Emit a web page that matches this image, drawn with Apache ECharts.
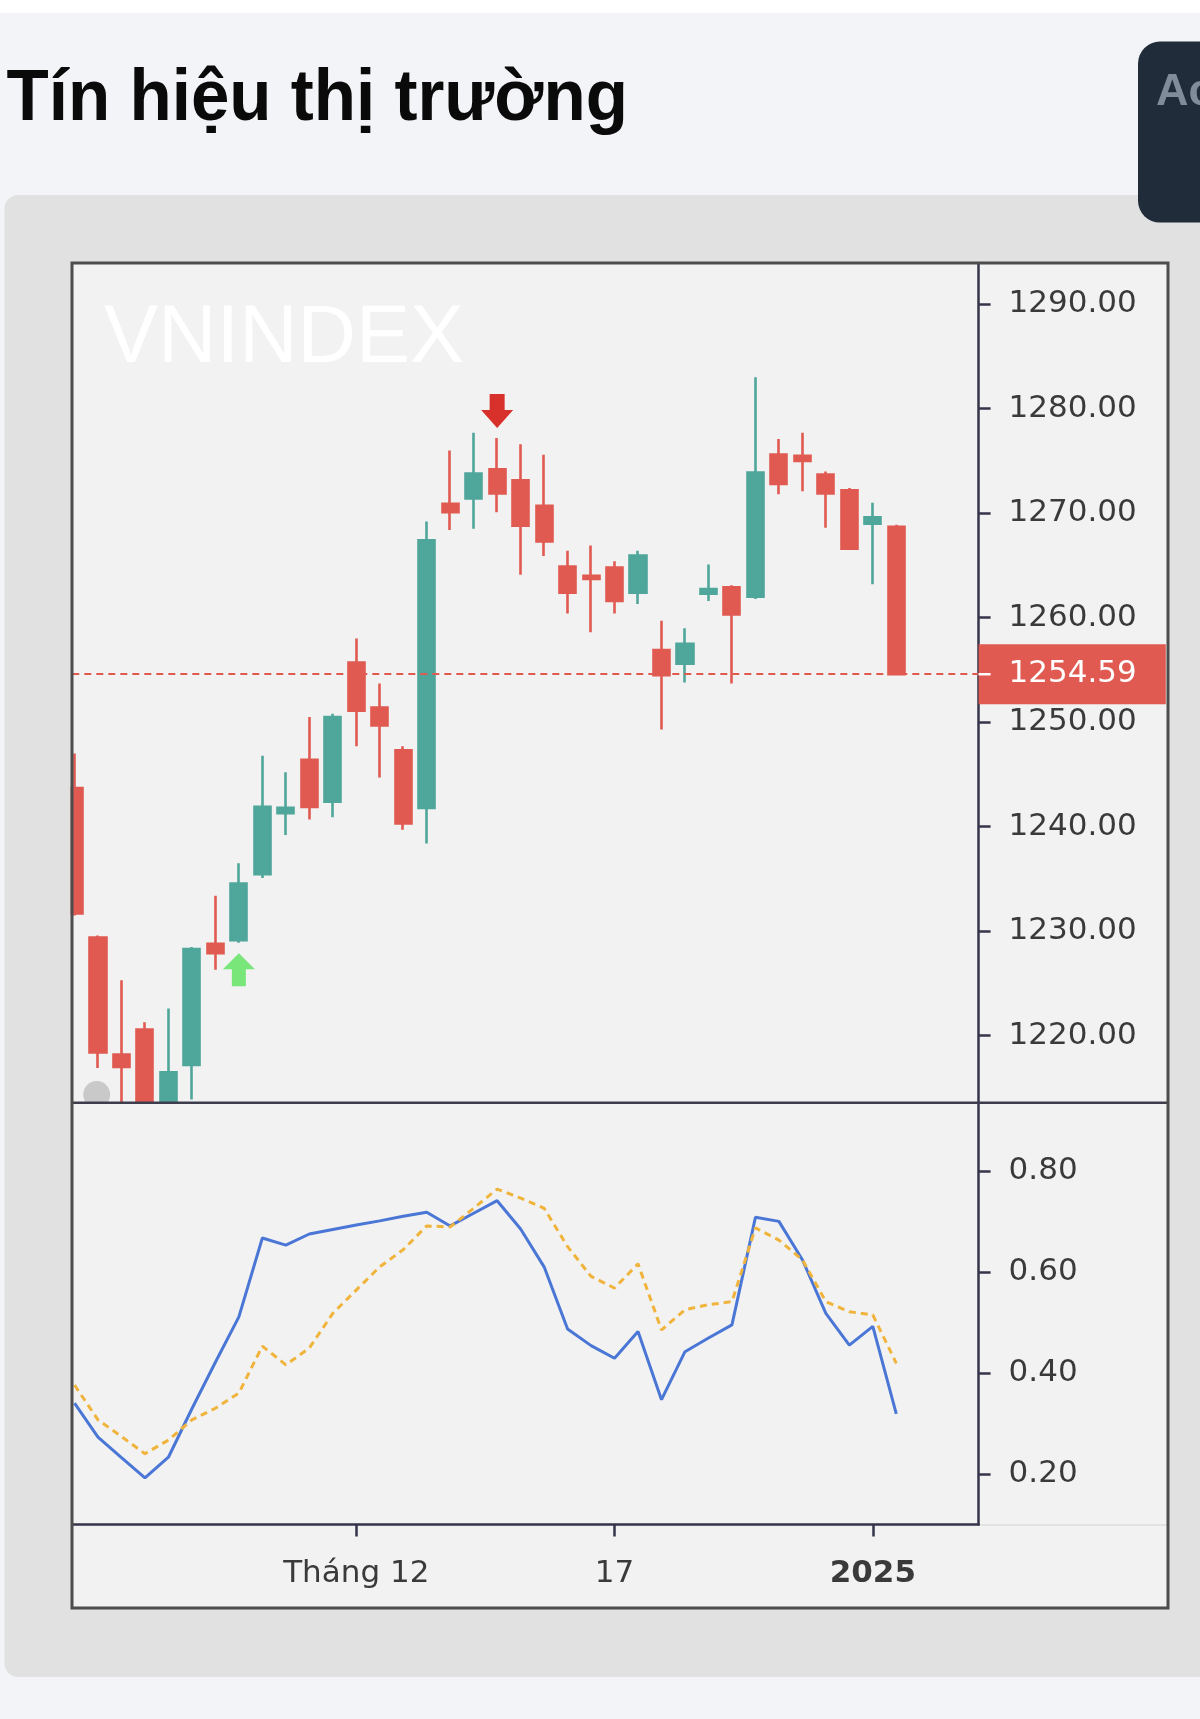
<!DOCTYPE html>
<html>
<head>
<meta charset="utf-8">
<title>Tín hiệu thị trường</title>
<script src="https://cdn.jsdelivr.net/npm/echarts@6/dist/echarts.min.js"></script>
<style>
  html, body { margin: 0; padding: 0; background: #f3f4f8; }
  #main { width: 1200px; height: 1719px; }
</style>
</head>
<body>
<div id="main"></div>
<script>
// VNINDEX daily candles, 14/11/2024 -> 03/01/2025
var opens  = [1243.7, 1229.4, 1218.2, 1220.6, 1212.0, 1217.2, 1228.8, 1229.15, 1235.45, 1241.3,
              1246.4, 1242.4, 1255.7, 1251.4, 1247.3, 1241.8, 1270.9, 1271.4, 1274.2, 1273.15,
              1270.7, 1264.9, 1264.0, 1264.8, 1262.4, 1256.9, 1255.6, 1262.3, 1262.9, 1262.0,
              1275.6, 1275.5, 1273.7, 1272.2, 1269.0, 1268.7];
var closes = [1231.7, 1218.4, 1217.0, 1212.5, 1216.5, 1228.3, 1227.9, 1234.56, 1241.9, 1241.8,
              1241.9, 1250.5, 1251.1, 1249.7, 1240.3, 1267.4, 1270.1, 1273.8, 1271.9, 1268.8,
              1267.3, 1262.4, 1263.7, 1261.6, 1265.95, 1254.5, 1257.5, 1262.75, 1260.3, 1273.9,
              1272.8, 1275.0, 1271.9, 1266.6, 1269.6, 1254.59];
var lows   = [1231.5, 1216.9, 1212.0, 1211.5, 1211.0, 1213.9, 1226.3, 1228.9, 1235.1, 1239.2,
              1240.7, 1240.9, 1247.7, 1244.7, 1239.7, 1238.4, 1268.4, 1268.5, 1270.1, 1264.1,
              1265.9, 1260.4, 1258.6, 1260.4, 1261.3, 1249.3, 1253.8, 1261.6, 1253.7, 1261.8,
              1271.8, 1272.1, 1268.6, 1266.6, 1263.2, 1254.5];
var highs  = [1247.0, 1229.6, 1225.3, 1221.3, 1222.6, 1228.5, 1233.4, 1236.5, 1246.8, 1245.2,
              1250.5, 1250.8, 1258.0, 1253.7, 1247.7, 1269.2, 1276.0, 1277.7, 1277.2, 1276.6,
              1275.6, 1266.4, 1266.9, 1265.4, 1266.4, 1259.7, 1259.0, 1265.1, 1263.1, 1283.0,
              1277.1, 1277.7, 1274.0, 1272.4, 1271.0, 1268.9];

// oscillator pane: fast line (blue) and slow line (orange dashed)
var kLine = [0.340, 0.273, 0.232, 0.192, 0.233, 0.329, 0.421, 0.511, 0.667, 0.653,
             0.675, 0.684, 0.693, 0.701, 0.710, 0.718, 0.691, 0.716, 0.741, 0.685,
             0.610, 0.487, 0.454, 0.429, 0.482, 0.347, 0.442, 0.469, 0.495, 0.708,
             0.700, 0.624, 0.518, 0.455, 0.492, 0.319];
var dLine = [0.376, 0.307, 0.274, 0.240, 0.267, 0.307, 0.330, 0.360, 0.453, 0.416,
             0.449, 0.518, 0.564, 0.610, 0.644, 0.691, 0.689, 0.726, 0.764, 0.746,
             0.726, 0.650, 0.591, 0.568, 0.616, 0.485, 0.525, 0.535, 0.541, 0.687,
             0.663, 0.624, 0.541, 0.521, 0.515, 0.419];

// axis ticks
var priceTicks = [1220, 1230, 1240, 1250, 1260, 1270, 1280, 1290];
var oscTicks = [0.2, 0.4, 0.6, 0.8];
var dateTickPos = [12, 23, 34];
var dateTickText = ['Tháng 12', '17', '2025'];

// signal markers
var buyIdx = 7;
var sellIdx = 18;
var lastPrice = closes[closes.length - 1];

var upColor = '#4fa69a';
var downColor = '#e05a51';
var axisColor = '#34344a';
var labelColor = '#3a3a3a';
var axisFont = 'DejaVu Sans';

var candleData = opens.map(function (o, i) {
    return [i, o, closes[i], lows[i], highs[i]];
});

var chart = echarts.init(document.getElementById('main'));

var xMin = -0.094, xMax = 38.505;

var option = {
    animation: false,
    backgroundColor: '#f3f4f8',
    graphic: [
        // page chrome
        { type: 'rect', z: -20, shape: { x: 0, y: 0, width: 1200, height: 13 }, style: { fill: '#ffffff' } },
        { type: 'rect', z: -20, shape: { x: 4.4, y: 195, width: 1230, height: 1482, r: 14 }, style: { fill: '#e1e1e1' } },
        { type: 'rect', z: -19, shape: { x: 1138, y: 41.6, width: 100, height: 181, r: 22 }, style: { fill: '#202c3a' } },
        { type: 'text', z: -18, style: { text: 'Ac', x: 1156, y: 93, font: 'bold 45px "Liberation Sans"', fill: '#808c9a', textVerticalAlign: 'middle' } },
        { type: 'text', z: -18, x: 6.6, scaleX: 0.96, style: { text: 'Tín hiệu thị trường', x: 0, y: 100, font: 'bold 72px "Liberation Sans"', fill: '#0a0a0a', textVerticalAlign: 'middle' } },
        // chart background
        { type: 'rect', z: -15, shape: { x: 72, y: 263, width: 1096, height: 1345 }, style: { fill: '#f2f2f2' } },
        { type: 'text', z: -14, style: { text: 'VNINDEX', x: 104, y: 340, font: '81px "Liberation Sans"', fill: '#ffffff', textVerticalAlign: 'middle' } },
        { type: 'circle', z: -14, shape: { cx: 96.7, cy: 1094.5, r: 13.5 }, style: { fill: '#c9c9c9' } },
        { type: 'rect', z: -13, shape: { x: 80, y: 1103, width: 35, height: 9 }, style: { fill: '#f2f2f2' } },
        // candles are only dropped when fully outside, so mask the overflow of the price pane
        { type: 'rect', z: 40, shape: { x: 30, y: 263, width: 40.6, height: 845 }, style: { fill: '#e1e1e1' } },
        { type: 'rect', z: 40, shape: { x: 73, y: 1103.5, width: 904, height: 50 }, style: { fill: '#f2f2f2' } },
        // pane separators and frame
        { type: 'line', z: 50, shape: { x1: 72, y1: 1102.7, x2: 1168, y2: 1102.7 }, style: { stroke: '#3d3d4d', lineWidth: 2.5 } },
        { type: 'line', z: 50, shape: { x1: 980, y1: 1525, x2: 1168, y2: 1525 }, style: { stroke: '#e2e2e2', lineWidth: 2 } },
        { type: 'rect', z: 50, shape: { x: 72, y: 263, width: 1096, height: 1345 }, style: { fill: 'none', stroke: '#4d4d4d', lineWidth: 3 } }
    ],
    grid: [
        { left: 72.3, top: 263, width: 906.3, height: 839.7 },
        { left: 72.3, top: 1102.7, width: 906.3, height: 421.7 }
    ],
    xAxis: [
        { type: 'value', gridIndex: 0, min: xMin, max: xMax, show: false },
        {
            type: 'value', gridIndex: 1, min: xMin, max: xMax,
            axisLine: { show: true, onZero: false, lineStyle: { color: axisColor, width: 2.5 } },
            axisTick: { show: true, customValues: dateTickPos, length: 12, lineStyle: { color: axisColor, width: 2.5 } },
            axisLabel: {
                customValues: dateTickPos, margin: 34, fontSize: 31, fontFamily: axisFont, color: labelColor,
                formatter: function (v) {
                    var t = dateTickText[dateTickPos.indexOf(Math.round(v))];
                    return /^\d{4}$/.test(t) ? '{b|' + t + '}' : t;
                },
                rich: { b: { fontWeight: 'bold', fontSize: 31, fontFamily: axisFont, color: labelColor } }
            },
            splitLine: { show: false }
        }
    ],
    yAxis: [
        {
            type: 'value', gridIndex: 0, position: 'right', min: 1213.59, max: 1293.94,
            axisLine: { show: true, onZero: false, lineStyle: { color: axisColor, width: 2.5 } },
            axisTick: { show: true, customValues: priceTicks, length: 12, lineStyle: { color: axisColor, width: 2.5 } },
            axisLabel: {
                customValues: priceTicks, margin: 30, fontSize: 31, fontFamily: axisFont, color: labelColor,
                padding: [4.4, 0, 0, 0],
                formatter: function (v) { return v.toFixed(2); }
            },
            splitLine: { show: false }
        },
        {
            type: 'value', gridIndex: 1, position: 'right', min: 0.10, max: 0.935,
            axisLine: { show: true, onZero: false, lineStyle: { color: axisColor, width: 2.5 } },
            axisTick: { show: true, customValues: oscTicks, length: 12, lineStyle: { color: axisColor, width: 2.5 } },
            axisLabel: {
                customValues: oscTicks, margin: 30, fontSize: 31, fontFamily: axisFont, color: labelColor,
                padding: [4.4, 0, 0, 0],
                formatter: function (v) { return v.toFixed(2); }
            },
            splitLine: { show: false }
        }
    ],
    series: [
        {
            type: 'candlestick',
            xAxisIndex: 0, yAxisIndex: 0,
            data: candleData,
            encode: { x: 0, y: [1, 2, 3, 4] },
            barWidth: 16.6,
            silent: true,
            itemStyle: {
                color: upColor, color0: downColor,
                borderColor: upColor, borderColor0: downColor,
                borderWidth: 2.6
            },
            markLine: {
                silent: true,
                symbol: ['none', 'none'],
                lineStyle: { color: downColor, type: [7, 5], width: 2 },
                label: {
                    show: true, position: 'end', distance: 0,
                    formatter: function (p) { return '{t|}{s|}' + Number(p.value).toFixed(2); },
                    color: '#ffffff', backgroundColor: downColor,
                    fontSize: 31, fontFamily: axisFont, lineHeight: 34,
                    padding: [13, 29, 13, 0],
                    rich: {
                        t: { width: 12, height: 2.5, backgroundColor: '#ffffff' },
                        s: { width: 18, height: 2 }
                    }
                },
                data: [{ yAxis: lastPrice }]
            },
            markPoint: {
                silent: true,
                label: { show: false },
                data: [
                    {
                        coord: [buyIdx, lows[buyIdx]],
                        symbol: 'path://M16,0 L32,16 L23,16 L23,33 L9,33 L9,16 L0,16 Z',
                        symbolSize: [32, 33], symbolOffset: [0, 27],
                        itemStyle: { color: '#78e678' }
                    },
                    {
                        coord: [sellIdx, highs[sellIdx]],
                        symbol: 'path://M8.5,0 L23.5,0 L23.5,16 L32,16 L16,34 L0,16 L8.5,16 Z',
                        symbolSize: [32, 34], symbolOffset: [0, -27],
                        itemStyle: { color: '#d8312b' }
                    }
                ]
            }
        },
        {
            type: 'line', xAxisIndex: 1, yAxisIndex: 1,
            data: kLine.map(function (v, i) { return [i, v]; }),
            showSymbol: false, silent: true,
            lineStyle: { color: '#4a76d6', width: 3 }
        },
        {
            type: 'line', xAxisIndex: 1, yAxisIndex: 1,
            data: dLine.map(function (v, i) { return [i, v]; }),
            showSymbol: false, silent: true,
            lineStyle: { color: '#f0b43c', width: 3, type: [7, 5] }
        }
    ]
};

chart.setOption(option);
</script>
</body>
</html>
